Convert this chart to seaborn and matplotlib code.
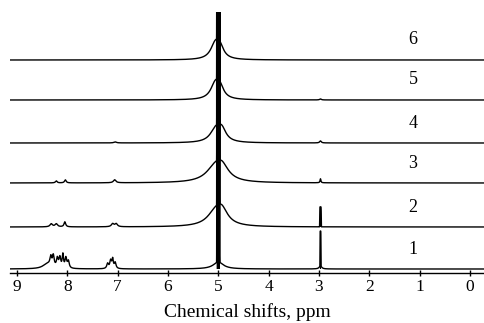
import numpy as np
import pandas as pd
import matplotlib
matplotlib.use("Agg")
import matplotlib.pyplot as plt
import seaborn as sns

# ---- data ----
trace_labels = ["1", "2", "3", "4", "5", "6"]
trace_offsets = [0, 42, 86, 126, 169, 209]          # baseline of each trace (stack units)

# peak tables per trace: position (ppm), height, half width (ppm), solid (saturated/bar-like) flag
peaks_pos = {
    "1": [5.00, 5.00, 8.40, 8.33, 8.28, 8.20, 8.15, 8.09, 8.03, 7.98, 7.20, 7.14, 7.10, 7.05, 2.97, 2.97],
    "2": [5.00, 5.05, 4.93, 8.32, 8.22, 8.05, 7.10, 7.03, 2.97],
    "3": [5.00, 5.06, 4.93, 8.22, 8.04, 7.06, 2.97],
    "4": [5.00, 5.05, 4.93, 7.05, 2.97],
    "5": [5.00, 5.06, 4.97, 2.97],
    "6": [5.00, 5.06, 4.97],
}
peaks_h = {
    "1": [3000, 7, 5, 9, 11, 9, 10, 13, 10, 7, 5, 8, 9, 6, 35, 3],
    "2": [3000, 14, 12, 3, 3, 5, 3, 3, 20],
    "3": [3000, 14, 12, 2, 3, 3, 4],
    "4": [3000, 13, 11, 1, 2],
    "5": [3000, 15, 10, 1],
    "6": [3000, 15, 10],
}
peaks_w = {
    "1": [0.028, 0.12, 0.10, 0.02, 0.02, 0.02, 0.02, 0.015, 0.02, 0.02, 0.02, 0.02, 0.015, 0.02, 0.010, 0.03],
    "2": [0.028, 0.20, 0.14, 0.03, 0.03, 0.02, 0.03, 0.03, 0.016],
    "3": [0.028, 0.22, 0.16, 0.02, 0.02, 0.03, 0.01],
    "4": [0.028, 0.13, 0.10, 0.03, 0.02],
    "5": [0.028, 0.11, 0.09, 0.02],
    "6": [0.028, 0.11, 0.09],
}
peaks_solid = {
    "1": [1, 0, 0, 0, 0, 0, 0, 0, 0, 0, 0, 0, 0, 0, 1, 0],
    "2": [1, 0, 0, 0, 0, 0, 0, 0, 1],
    "3": [1, 0, 0, 0, 0, 0, 0],
    "4": [1, 0, 0, 0, 0],
    "5": [1, 0, 0, 0],
    "6": [1, 0, 0],
}
xticks = [9, 8, 7, 6, 5, 4, 3, 2, 1, 0]
label_ppm = 1.13

# ---- build spectra from peak tables ----
ppm = np.linspace(9.14, -0.28, 8000)
rows = []
for lab, off in zip(trace_labels, trace_offsets):
    y = np.zeros_like(ppm)
    spike = np.zeros_like(ppm, dtype=bool)
    for p, h, w, s in zip(peaks_pos[lab], peaks_h[lab], peaks_w[lab], peaks_solid[lab]):
        if s:   # bar-like (saturated) line: flat-sided, drawn solid
            y += h * np.exp(-((ppm - p) / w) ** 10)
            spike |= np.abs(ppm - p) < 1.2 * w
        else:
            y += h / (1 + ((ppm - p) / w) ** 2)
    rows.append(pd.DataFrame({"ppm": ppm, "int": y + off, "base": float(off),
                              "spike": spike, "trace": lab}))
df = pd.concat(rows, ignore_index=True)

sns.set_theme(style="white")
plt.rcParams["font.family"] = ["Liberation Serif", "DejaVu Serif"]

fig = plt.figure(figsize=(4.84, 3.23), dpi=100)
ax = fig.add_axes([10 / 484, 50 / 323, 474 / 484, 261 / 323])
sns.lineplot(data=df, x="ppm", y="int", units="trace", estimator=None,
             color="black", lw=1.0, ax=ax, sort=False)
for lab in trace_labels:
    d = df[df["trace"] == lab]
    ax.fill_between(d["ppm"], d["base"], d["int"], where=d["spike"].to_numpy(),
                    color="black", lw=0, interpolate=False)

ax.set_xlim(9.14, -0.28)
ax.set_ylim(-4, 257)
for s in ["top", "left", "right"]:
    ax.spines[s].set_visible(False)
ax.spines["bottom"].set_color("black")
ax.spines["bottom"].set_linewidth(1.0)
ax.set_yticks([])
ax.set_xticks(xticks)
ax.set_xticklabels([str(t) for t in xticks], fontsize=12.5)
ax.tick_params(axis="x", direction="inout", length=5, width=1, color="black",
               pad=2, labelcolor="black", bottom=True)
ax.set_xlabel("Chemical shifts, ppm", fontsize=14, color="black", labelpad=6)
ax.set_ylabel("")

for lab, off in zip(trace_labels, trace_offsets):
    ax.text(label_ppm, off + 20, lab, fontsize=13, ha="center", va="center", color="black")

fig.savefig("out.png", dpi=100)
